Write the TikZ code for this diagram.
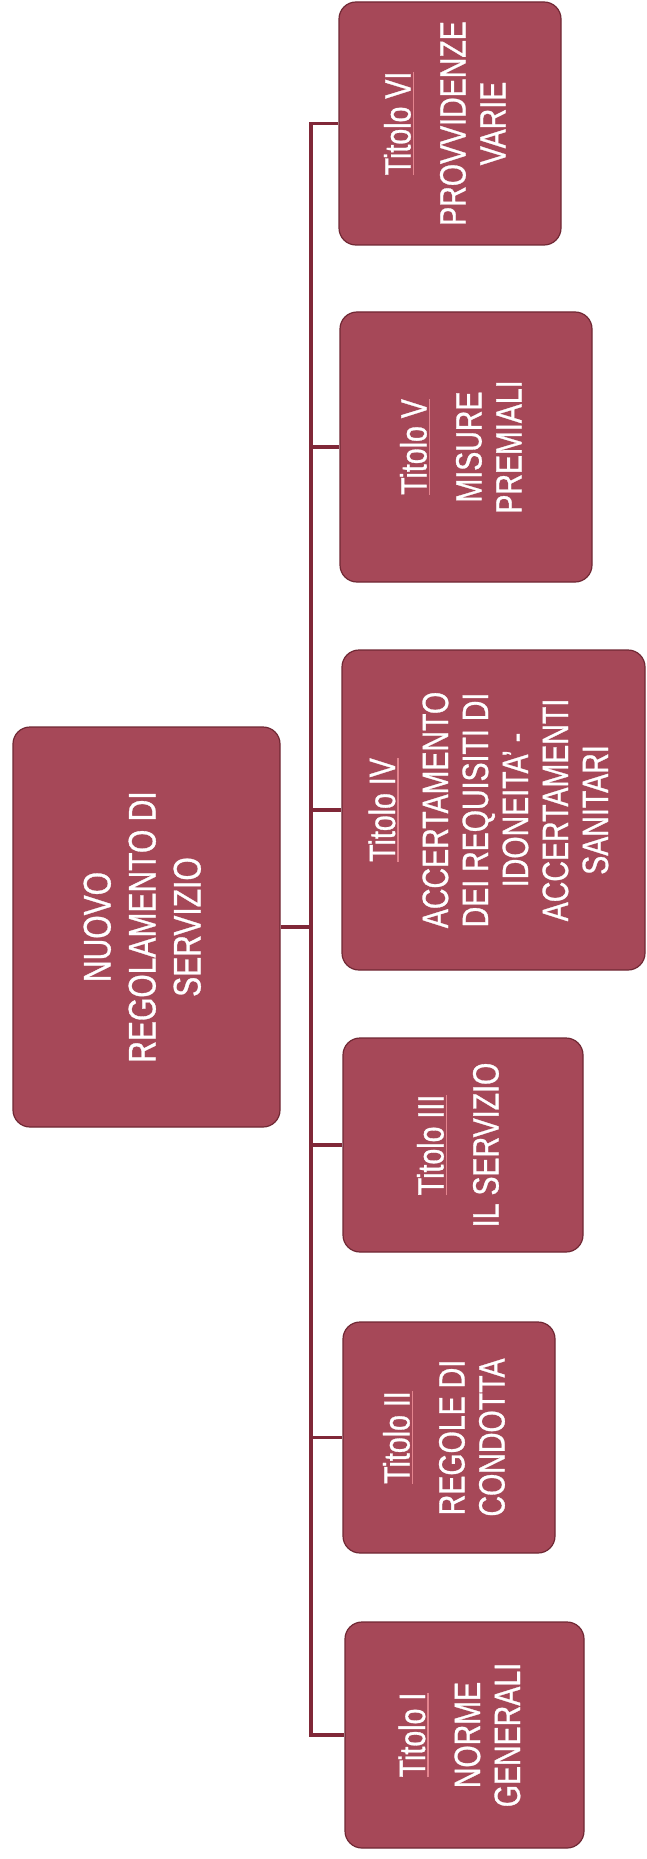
\documentclass[tikz,border=0pt]{standalone}
\usepackage{fontspec}
\setmainfont{Liberation Sans}[FakeStretch=0.78,FakeBold=0.8]
\usetikzlibrary{calc}
\definecolor{boxfill}{RGB}{166,72,88}
\definecolor{boxline}{RGB}{112,40,52}
\definecolor{linkcol}{RGB}{128,40,56}
\definecolor{ulcol}{RGB}{228,132,142}
\newcommand{\titolo}[1]{\setbox0\hbox{#1}\rlap{\color{ulcol}\rule[-3.5pt]{\wd0}{1.2pt}}\box0}
\newcommand{\vlines}[1]{\rotatebox{90}{\begin{tabular}{@{}c@{}}#1\end{tabular}}}
\tikzset{
    rootbox/.style =  {rectangle,
                      rounded corners=17pt,
                      fill=boxfill,
                      draw=boxline,
                      text=white,
                      line width=1.2pt,
                      inner sep=0pt,
                      font=\fontsize{38.5}{45}\selectfont},
    titlebox/.style = {rectangle,
                      rounded corners=17pt,
                      fill=boxfill,
                      draw=boxline,
                      text=white,
                      line width=1.2pt,
                      inner sep=0pt,
                      font=\fontsize{36.6}{40}\selectfont},
    link/.style =     {draw=linkcol,
                      line width=3.2pt},
    -}

\begin{document}
\begin{tikzpicture}[x=1pt,y=-1pt]
        \useasboundingbox (0,0) rectangle (646,1859);
        % root
        \node[rootbox, minimum width=267pt, minimum height=400pt] (R) at (146.5,927)
            {\vlines{NUOVO\\REGOLAMENTO DI\\SERVIZIO}};
        % titles
        \node[titlebox, minimum width=222pt, minimum height=243pt] (T6) at (450,123.5)
            {\vlines{\titolo{Titolo VI}\\[15pt]PROVVIDENZE\\VARIE}};
        \node[titlebox, minimum width=252pt, minimum height=270pt] (T5) at (466,447)
            {\vlines{\titolo{Titolo V}\\[15pt]MISURE\\PREMIALI}};
        \node[titlebox, minimum width=303pt, minimum height=320pt] (T4) at (493.5,810)
            {\vlines{\titolo{Titolo IV}\\[13pt]ACCERTAMENTO\\DEI REQUISITI DI\\IDONEITA’ -\\ACCERTAMENTI\\SANITARI}};
        \node[titlebox, minimum width=240pt, minimum height=214pt] (T3) at (463,1145)
            {\vlines{\titolo{Titolo III}\\[15pt]IL SERVIZIO}};
        \node[titlebox, minimum width=212pt, minimum height=231pt] (T2) at (449,1437.5)
            {\vlines{\titolo{Titolo II}\\[15pt]REGOLE DI\\CONDOTTA}};
        \node[titlebox, minimum width=239pt, minimum height=226pt] (T1) at (464.5,1735)
            {\vlines{\titolo{Titolo I}\\[15pt]NORME\\GENERALI}};
        % connectors
        \coordinate (S) at (311,123.5);
        \draw[link] (R.east) -- (R.east -| S);
        \draw[link] (T6.west) -- (S) -- (T1.west -| S) -- (T1.west);
        \foreach \t in {T5,T4,T3,T2}
            \draw[link] (\t.west -| S) -- (\t.west);
\end{tikzpicture}
\end{document}
